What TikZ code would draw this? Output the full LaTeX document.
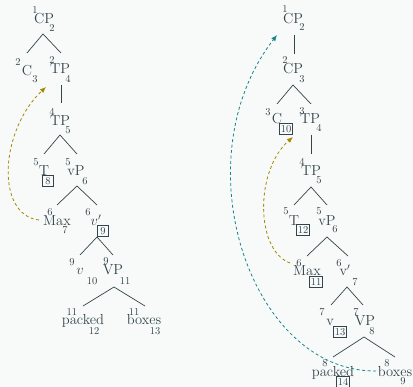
\documentclass[tikz,border=0pt]{standalone}
\usetikzlibrary{arrows.meta}
\definecolor{ink}{HTML}{33454B}
\definecolor{gold}{HTML}{A38A00}
\definecolor{tealc}{HTML}{17868A}
\definecolor{bg}{HTML}{F8F9F9}
\begin{document}
\begin{tikzpicture}[x=1pt,y=-1pt,
  w/.style={font=\fontsize{14.5}{16}\selectfont, inner sep=0pt, text=ink, anchor=base},
  nb/.style={font=\fontsize{10.5}{12}\selectfont, inner sep=0pt, text=ink},
  bx/.style={nb, draw=ink, inner sep=1pt, line width=0.6pt, minimum width=11pt, minimum height=11pt},
  br/.style={draw=ink, line width=0.7pt},
  mv/.style={-{Latex[length=6pt,width=5pt]}, dash pattern=on 3pt off 2.5pt, line width=0.8pt}]
\fill[bg] (0,0) rectangle (413,387);
\useasboundingbox (0,0) rectangle (413,387);

% ---------- left tree ----------
\node[w] (cpA) at (44,24) {CP};   \node[nb] (cpAs) at (35,10) {1};  \node[nb] (cpAi) at (52,28) {2};
\node[w] (cA) at (27,76) {C};     \node[nb] (cAs) at (18,62) {2};   \node[nb] (cAi) at (35,79) {3};
\node[w] (tpA) at (60,74) {TP};   \node[nb] (tpAs) at (52,60) {2};  \node[nb] (tpAi) at (68,79) {4};
\node[w] (tp2A) at (60,126) {TP}; \node[nb] (tp2As) at (52,112) {4}; \node[nb] (tp2Ai) at (68,130) {5};
\node[w] (tA) at (44,176) {T};    \node[nb] (tAs) at (36,162) {5};  \node[bx] (tAi) at (48,181) {8};
\node[w] (vpA) at (76,176) {vP};  \node[nb] (vpAs) at (68,162) {5}; \node[nb] (vpAi) at (85,181) {6};
\node[w] (maxA) at (57,226) {Max}; \node[nb] (maxAs) at (50,212) {6}; \node[nb] (maxAi) at (65,230) {7};
\node[w] (vbA) at (96,226) {$v'$}; \node[nb] (vbAs) at (88,212) {6}; \node[bx] (vbAi) at (103,231) {9};
\node[w] (vA) at (80,275) {$v$};  \node[nb] (vAs) at (72,262) {9};  \node[nb] (vAi) at (92,281) {10};
\node[w] (vpbA) at (113,275) {VP}; \node[nb] (vpbAs) at (106,261) {9}; \node[nb] (vpbAi) at (125,281) {11};
\node[w] (pkA) at (83,325) {packed}; \node[nb] (pkAs) at (72,312) {11}; \node[nb] (pkAi) at (94,331) {12};
\node[w] (bxA) at (144,325) {boxes}; \node[nb] (bxAs) at (134,312) {11}; \node[nb] (bxAi) at (155,331) {13};

\coordinate (cpA-b) at (43,34);  \coordinate (cA-t) at (27,53);  \coordinate (tpA-t) at (61,53);
\coordinate (tpA-b) at (61,85);  \coordinate (tp2A-t) at (61,103);
\coordinate (tp2A-b) at (60,135); \coordinate (tA-t) at (44,154); \coordinate (vpA-t) at (77,154);
\coordinate (vpA-b) at (77,186); \coordinate (maxA-t) at (57,205); \coordinate (vbA-t) at (97,205);
\coordinate (vbA-b) at (97,237); \coordinate (vA-t) at (80,255); \coordinate (vpbA-t) at (113,255);
\coordinate (vpbA-b) at (114,287); \coordinate (pkA-t) at (83,306); \coordinate (bxA-t) at (145,306);
\draw[br] (cA-t) -- (cpA-b) -- (tpA-t);
\draw[br] (tpA-b) -- (tp2A-t);
\draw[br] (tA-t) -- (tp2A-b) -- (vpA-t);
\draw[br] (maxA-t) -- (vpA-b) -- (vbA-t);
\draw[br] (vA-t) -- (vbA-b) -- (vpbA-t);
\draw[br] (pkA-t) -- (vpbA-b) -- (bxA-t);

\coordinate (mvA-s) at (39,220); \coordinate (mvA-e) at (46,87);
\draw[mv, gold] (mvA-s) .. controls (-5,215) and (0,130) .. (mvA-e);

% ---------- right tree ----------
\node[w] (cpB) at (293,24) {CP};  \node[nb] (cpBs) at (285,9) {1};  \node[nb] (cpBi) at (302,27) {2};
\node[w] (cp2B) at (293,74) {CP}; \node[nb] (cp2Bs) at (285,60) {2}; \node[nb] (cp2Bi) at (302,79) {3};
\node[w] (cB) at (277,124) {C};   \node[nb] (cBs) at (268,112) {3}; \node[bx] (cBi) at (286,129) {10};
\node[w] (tpB) at (310,124) {TP}; \node[nb] (tpBs) at (302,111) {3}; \node[nb] (tpBi) at (319,128) {4};
\node[w] (tp2B) at (311,176) {TP}; \node[nb] (tp2Bs) at (302,162) {4}; \node[nb] (tp2Bi) at (319,180) {5};
\node[w] (tB) at (294,226) {T};   \node[nb] (tBs) at (286,211) {5}; \node[bx] (tBi) at (303,230) {12};
\node[w] (vpB) at (327,226) {vP}; \node[nb] (vpBs) at (319,211) {5}; \node[nb] (vpBi) at (335,229) {6};
\node[w] (maxB) at (307,276) {Max}; \node[nb] (maxBs) at (299,263) {6}; \node[bx] (maxBi) at (316,282) {11};
\node[w] (vbB) at (345,276) {v$'$}; \node[nb] (vbBs) at (339,263) {6}; \node[nb] (vbBi) at (355,282) {7};
\node[w] (vB) at (330,326) {v};   \node[nb] (vBs) at (322,312) {7}; \node[bx] (vBi) at (340,332) {13};
\node[w] (vpbB) at (365,326) {VP}; \node[nb] (vpbBs) at (356,312) {7}; \node[nb] (vpbBi) at (372,331) {8};
\node[w] (pkB) at (333,377) {packed}; \node[nb] (pkBs) at (325,363) {8}; \node[bx] (pkBi) at (343,382) {14};
\node[w] (bxB) at (395,377) {boxes}; \node[nb] (bxBs) at (387,363) {8}; \node[nb] (bxBi) at (403,381) {9};

\coordinate (cpB-b) at (294,35);  \coordinate (cp2B-t) at (294,54);
\coordinate (cp2B-b) at (293,85); \coordinate (cB-t) at (277,104); \coordinate (tpB-t) at (311,104);
\coordinate (tpB-b) at (311,135); \coordinate (tp2B-t) at (311,154);
\coordinate (tp2B-b) at (311,187); \coordinate (tB-t) at (294,205); \coordinate (vpB-t) at (327,205);
\coordinate (vpB-b) at (327,237); \coordinate (maxB-t) at (307,256); \coordinate (vbB-t) at (348,256);
\coordinate (vbB-b) at (347,287); \coordinate (vB-t) at (331,305); \coordinate (vpbB-t) at (363,305);
\coordinate (vpbB-b) at (364,337); \coordinate (pkB-t) at (333,357); \coordinate (bxB-t) at (395,357);
\draw[br] (cpB-b) -- (cp2B-t);
\draw[br] (cB-t) -- (cp2B-b) -- (tpB-t);
\draw[br] (tpB-b) -- (tp2B-t);
\draw[br] (tB-t) -- (tp2B-b) -- (vpB-t);
\draw[br] (maxB-t) -- (vpB-b) -- (vbB-t);
\draw[br] (vB-t) -- (vbB-b) -- (vpbB-t);
\draw[br] (pkB-t) -- (vpbB-b) -- (bxB-t);

\coordinate (mvB-s) at (290,263); \coordinate (mvB-e) at (293,137);
\draw[mv, gold] (mvB-s) .. controls (255,250) and (255,170) .. (mvB-e);
\coordinate (mvC-s) at (376,371); \coordinate (mvC-e) at (277,35);
\draw[mv, tealc] (mvC-s) .. controls (250,372) and (180,160) .. (mvC-e);
\end{tikzpicture}
\end{document}
